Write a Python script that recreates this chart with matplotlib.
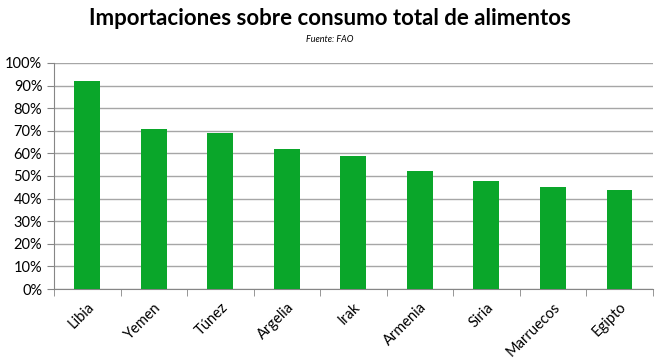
import matplotlib.pyplot as plt
import numpy as np
from matplotlib.ticker import PercentFormatter, FixedLocator
from matplotlib.transforms import ScaledTranslation

paises = ['Libia', 'Yemen', 'Túnez', 'Argelia', 'Irak', 'Armenia', 'Siria', 'Marruecos', 'Egipto']
importaciones = [92, 71, 69, 62, 59, 52, 48, 45, 44]

plt.rcParams['font.family'] = ['Lato', 'DejaVu Sans']

fig = plt.figure(figsize=(6.6, 3.64), dpi=100)
ax = fig.add_axes([0.082, 0.206, 0.907, 0.621])

x = np.arange(len(paises))
ax.bar(x, importaciones, width=0.39, color='#0aa62a', zorder=3)

ax.set_xlim(-0.5, len(paises) - 0.5)
ax.set_ylim(0, 100)
ax.set_yticks(np.arange(0, 101, 10))
ax.yaxis.set_major_formatter(PercentFormatter(decimals=0))
ax.grid(axis='y', color='#a6a6a6', linewidth=1, zorder=0)

ax.set_xticks(x)
ax.set_xticklabels(paises, rotation=45, ha='right', rotation_mode='anchor', fontsize=10.5)
# shift labels slightly right, like the original
for lab in ax.get_xticklabels():
    lab.set_transform(lab.get_transform() + ScaledTranslation(0.08, 0, fig.dpi_scale_trans))
ax.tick_params(axis='x', which='major', length=0, pad=8)
ax.xaxis.set_minor_locator(FixedLocator(np.arange(-0.5, len(paises), 1)))
ax.tick_params(axis='x', which='minor', length=5, color='#868686')
ax.tick_params(axis='y', length=5, color='#868686', labelsize=10.5)

for s in ['top', 'right']:
    ax.spines[s].set_visible(False)
for s in ['left', 'bottom']:
    ax.spines[s].set_color('#868686')

fig.text(0.5, 0.95, 'Importaciones sobre consumo total de alimentos',
         ha='center', va='center', fontsize=16, fontweight='bold')
fig.text(0.5, 0.892, 'Fuente: FAO', ha='center', va='center', fontsize=6.5, style='italic')

fig.savefig('out.png', dpi=100)
